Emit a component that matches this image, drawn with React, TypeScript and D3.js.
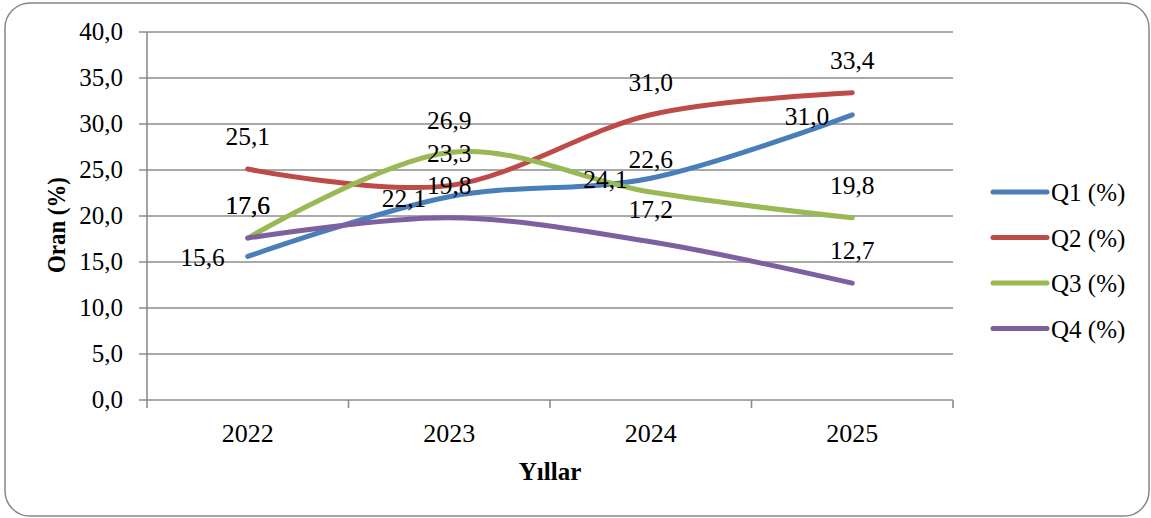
import { useEffect, useRef } from 'react';
import * as d3 from 'd3';

// chart data
const years = ['2022', '2023', '2024', '2025'];
const seriesNames = ['Q1 (%)', 'Q2 (%)', 'Q3 (%)', 'Q4 (%)'];
const q1Values = [15.6, 22.1, 24.1, 31.0];
const q2Values = [25.1, 23.3, 31.0, 33.4];
const q3Values = [17.6, 26.9, 22.6, 19.8];
const q4Values = [17.6, 19.8, 17.2, 12.7];
const yTicks = [0, 5, 10, 15, 20, 25, 30, 35, 40];

const colors = ['#4A7EBB', '#BE4B48', '#98B954', '#7D60A0'];
// Q1 labels sit left of the point, the rest above
const labelPos = ['left', 'above', 'above', 'above'];

const W = 1151;
const H = 518;
const FONT = '"Liberation Serif", "Times New Roman", serif';

export default function App() {
  const svgRef = useRef<SVGSVGElement>(null);

  useEffect(() => {
    if (!svgRef.current) return;
    const svg = d3.select(svgRef.current);
    svg.selectAll('*').remove();

    const plot = { left: 147, right: 953, top: 32, bottom: 400 };
    const fmt = (v: number) => d3.format('.1f')(v).replace('.', ',');

    const x = d3.scaleBand<string>().domain(years).range([plot.left, plot.right]);
    const cx = (d: string) => (x(d) as number) + x.bandwidth() / 2;
    const y = d3.scaleLinear().domain([0, 40]).range([plot.bottom, plot.top]);

    // outer frame
    svg.append('rect')
      .attr('x', 5).attr('y', 3)
      .attr('width', 1144).attr('height', 513)
      .attr('rx', 25).attr('ry', 25)
      .attr('fill', '#fff')
      .attr('stroke', '#888')
      .attr('stroke-width', 1.5);

    // horizontal gridlines + y ticks
    svg.append('g')
      .selectAll('line')
      .data(yTicks)
      .enter()
      .append('line')
      .attr('x1', plot.left - 8).attr('x2', plot.right)
      .attr('y1', d => y(d)).attr('y2', d => y(d))
      .attr('stroke', '#8c8c8c')
      .attr('stroke-width', 1.6);

    svg.append('g')
      .selectAll('text')
      .data(yTicks)
      .enter()
      .append('text')
      .attr('x', 123)
      .attr('y', d => y(d) + 8)
      .attr('text-anchor', 'end')
      .style('font-family', FONT)
      .style('font-size', '25px')
      .text(d => fmt(d));

    // y axis line
    svg.append('line')
      .attr('x1', plot.left).attr('x2', plot.left)
      .attr('y1', plot.top).attr('y2', plot.bottom)
      .attr('stroke', '#8c8c8c')
      .attr('stroke-width', 1.6);

    // x axis ticks at band edges
    const edges = years.map(d => x(d) as number).concat([plot.right]);
    svg.append('g')
      .selectAll('line')
      .data(edges)
      .enter()
      .append('line')
      .attr('x1', d => d).attr('x2', d => d)
      .attr('y1', plot.bottom).attr('y2', plot.bottom + 8)
      .attr('stroke', '#8c8c8c')
      .attr('stroke-width', 1.6);

    svg.append('g')
      .selectAll('text')
      .data(years)
      .enter()
      .append('text')
      .attr('x', d => cx(d))
      .attr('y', 442)
      .attr('text-anchor', 'middle')
      .style('font-family', FONT)
      .style('font-size', '26px')
      .text(d => d);

    // axis titles
    svg.append('text')
      .attr('x', 550).attr('y', 480)
      .attr('text-anchor', 'middle')
      .style('font-family', FONT)
      .style('font-size', '25px')
      .style('font-weight', 'bold')
      .text('Yıllar');

    svg.append('text')
      .attr('transform', 'translate(65,225) rotate(-90)')
      .attr('text-anchor', 'middle')
      .attr('textLength', 96)
      .attr('lengthAdjust', 'spacingAndGlyphs')
      .style('font-family', FONT)
      .style('font-size', '25px')
      .style('font-weight', 'bold')
      .text('Oran (%)');

    // series
    const allSeries = [q1Values, q2Values, q3Values, q4Values];
    const line = d3.line<number>()
      .x((_, i) => cx(years[i]))
      .y(d => y(d))
      .curve(d3.curveCatmullRom.alpha(0));

    allSeries.forEach((vals, s) => {
      svg.append('path')
        .attr('d', line(vals))
        .attr('fill', 'none')
        .attr('stroke', colors[s])
        .attr('stroke-width', 5)
        .attr('stroke-linecap', 'round');
    });

    // data labels
    allSeries.forEach((vals, s) => {
      svg.append('g')
        .selectAll('text')
        .data(vals)
        .enter()
        .append('text')
        .attr('x', (_, i) => labelPos[s] === 'left' ? cx(years[i]) - 23 : cx(years[i]))
        .attr('y', d => labelPos[s] === 'left' ? y(d) + 10 : y(d) - 24)
        .attr('text-anchor', labelPos[s] === 'left' ? 'end' : 'middle')
        .style('font-family', FONT)
        .style('font-size', '25.5px')
        .text(d => fmt(d));
    });

    // legend
    const legend = svg.append('g');
    seriesNames.forEach((name, i) => {
      const ly = 192 + i * 45.5;
      legend.append('line')
        .attr('x1', 993).attr('x2', 1047)
        .attr('y1', ly).attr('y2', ly)
        .attr('stroke', colors[i])
        .attr('stroke-width', 5)
        .attr('stroke-linecap', 'round');
      legend.append('text')
        .attr('x', 1051).attr('y', ly + 9)
        .style('font-family', FONT)
        .style('font-size', '25px')
        .text(name);
    });
  }, []);

  return (
    <svg
      ref={svgRef}
      width={W}
      height={H}
      style={{ position: 'absolute', left: 0, top: 0, background: '#fff' }}
    />
  );
}
